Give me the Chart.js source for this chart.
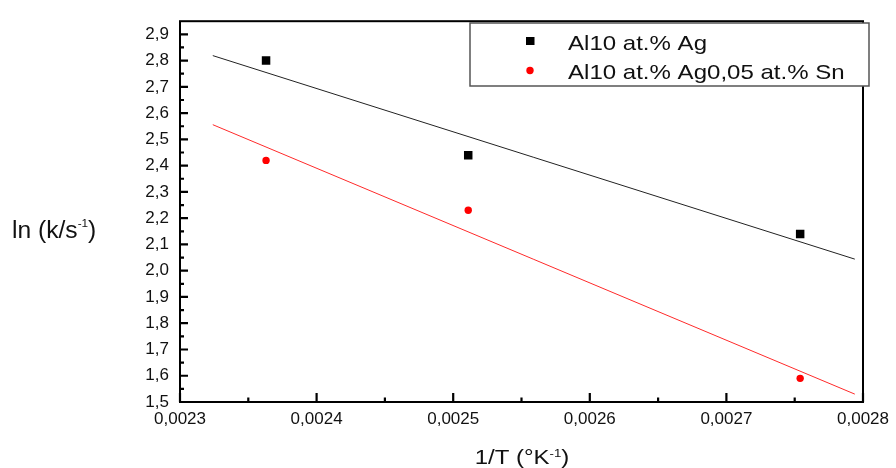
<!DOCTYPE html>
<html>
<head>
<meta charset="utf-8">
<script src="https://cdn.jsdelivr.net/npm/chart.js@4.4.1/dist/chart.umd.min.js"></script>
<style>
  html, body { margin: 0; padding: 0; background: #fff; overflow: hidden; }
  canvas { display: block; }
</style>
</head>
<body>
<canvas id="arrhenius" width="896" height="468"></canvas>
<script>
// values
const invT = [0.002363, 0.002511, 0.002754];
const lnAg = [2.80, 2.44, 2.14];
const lnAgSn = [2.42, 2.23, 1.59];

// end points of the two fitted lines
const fitInvT = [0.002324, 0.002794];
const fitAg = [2.819, 2.044];
const fitAgSn = [2.556, 1.530];

const xTickLabels = ['0,0023', '0,0024', '0,0025', '0,0026', '0,0027', '0,0028'];
const yTickLabels = ['1,5', '1,6', '1,7', '1,8', '1,9', '2,0', '2,1', '2,2',
                     '2,3', '2,4', '2,5', '2,6', '2,7', '2,8', '2,9'];

const FONT = '"Liberation Sans", Arial, sans-serif';
const toNum = s => parseFloat(s.replace(',', '.'));

function pts(xs, ys) {
    return xs.map((x, i) => ({ x: x, y: ys[i] }));
}

// draws a run of text pieces (with superscripts), stretched horizontally by sx
function drawRuns(ctx, runs, x, baseline, sx, align) {
    ctx.save();
    let total = 0;
    runs.forEach(r => {
        ctx.font = r.size + 'px ' + FONT;
        r.w = ctx.measureText(r.t).width;
        total += r.w;
    });
    ctx.translate(x, baseline);
    ctx.scale(sx, 1);
    let cx = align === 'center' ? -total / 2 : 0;
    ctx.textBaseline = 'alphabetic';
    ctx.textAlign = 'left';
    runs.forEach(r => {
        ctx.font = r.size + 'px ' + FONT;
        ctx.fillText(r.t, cx, r.dy || 0);
        cx += r.w;
    });
    ctx.restore();
}

const framePlugin = {
    id: 'frame',
    afterDatasetsDraw(chart) {
        const { ctx, chartArea: a, scales: { x, y } } = chart;
        ctx.save();
        ctx.strokeStyle = '#000';
        ctx.lineWidth = 2;
        ctx.strokeRect(a.left, a.top, a.right - a.left, a.bottom - a.top);
        ctx.beginPath();
        ctx.lineWidth = 2.2;
        y.ticks.forEach((t, i) => {
            const p = y.getPixelForValue(t.value);
            ctx.moveTo(a.left, p);
            ctx.lineTo(a.left + 8, p);
            if (i < y.ticks.length - 1) {
                const m = y.getPixelForValue((t.value + y.ticks[i + 1].value) / 2);
                ctx.moveTo(a.left, m);
                ctx.lineTo(a.left + 4, m);
            }
        });
        x.ticks.forEach((t, i) => {
            const p = x.getPixelForValue(t.value);
            ctx.moveTo(p, a.bottom);
            ctx.lineTo(p, a.bottom - 9);
            if (i < x.ticks.length - 1) {
                const m = x.getPixelForValue((t.value + x.ticks[i + 1].value) / 2);
                ctx.moveTo(m, a.bottom);
                ctx.lineTo(m, a.bottom - 4.5);
            }
        });
        ctx.stroke();
        ctx.restore();
    },
    afterDraw(chart) {
        const ctx = chart.ctx;
        ctx.save();
        ctx.fillStyle = '#111';
        // axis titles
        drawRuns(ctx, [
            { t: 'ln (k/s', size: 23 },
            { t: '-1', size: 11, dy: -11.5 },
            { t: ')', size: 23 }
        ], 12, 238, 1.07, 'left');
        drawRuns(ctx, [
            { t: '1/T (°K', size: 20 },
            { t: '-1', size: 11, dy: -7.5 },
            { t: ')', size: 20 }
        ], 522, 464, 1.2, 'center');

        // legend box
        ctx.fillStyle = '#fff';
        ctx.fillRect(470, 23, 399, 63);
        ctx.strokeStyle = '#555';
        ctx.lineWidth = 1.5;
        ctx.strokeRect(470, 23, 399, 63);
        const shown = chart.data.datasets.filter(d => d.inLegend);
        shown.forEach((d, i) => {
            const cy = 41 + i * 29.5;
            ctx.fillStyle = d.backgroundColor;
            if (d.pointStyle === 'rect') {
                ctx.fillRect(526, cy - 4, 8.5, 8);
            } else {
                ctx.beginPath();
                ctx.arc(530, cy, 3.7, 0, Math.PI * 2);
                ctx.fill();
            }
            ctx.fillStyle = '#111';
            drawRuns(ctx, [{ t: d.label, size: 21 }], 568, cy + 8.5, 1.145, 'left');
        });
        ctx.restore();
    }
};

new Chart(document.getElementById('arrhenius'), {
    type: 'scatter',
    data: {
        datasets: [{
            label: 'Al10 at.% Ag',
            inLegend: true,
            data: pts(invT, lnAg),
            pointStyle: 'rect',
            pointRadius: 6,
            backgroundColor: '#000',
            borderColor: '#000',
            borderWidth: 0
        }, {
            label: 'Al10 at.% Ag0,05 at.% Sn',
            inLegend: true,
            data: pts(invT, lnAgSn),
            pointStyle: 'circle',
            pointRadius: 3.7,
            backgroundColor: '#f00',
            borderColor: '#f00',
            borderWidth: 0
        }, {
            label: 'fit Ag',
            data: pts(fitInvT, fitAg),
            showLine: true,
            pointRadius: 0,
            borderColor: '#222',
            borderWidth: 1
        }, {
            label: 'fit AgSn',
            data: pts(fitInvT, fitAgSn),
            showLine: true,
            pointRadius: 0,
            borderColor: '#ff2a2a',
            borderWidth: 1
        }]
    },
    options: {
        responsive: false,
        animation: false,
        devicePixelRatio: 1,
        layout: { padding: { top: 16, right: 30, left: 0, bottom: 0 } },
        plugins: {
            legend: { display: false },
            tooltip: { enabled: false }
        },
        scales: {
            x: {
                type: 'linear',
                min: 0.0023,
                max: 0.0028,
                afterBuildTicks: s => { s.ticks = xTickLabels.map(l => ({ value: toNum(l) })); },
                afterFit: s => { s.height = 66; },
                grid: { display: false, drawTicks: false },
                border: { display: false },
                ticks: {
                    callback: (v, i) => xTickLabels[i],
                    autoSkip: false,
                    maxRotation: 0,
                    padding: 7,
                    color: '#111',
                    font: { family: FONT, size: 17 }
                }
            },
            y: {
                type: 'linear',
                min: 1.5,
                max: 2.95,
                afterBuildTicks: s => { s.ticks = yTickLabels.map(l => ({ value: toNum(l) })); },
                afterFit: s => { s.width = 180; },
                grid: { display: false, drawTicks: false },
                border: { display: false },
                ticks: {
                    callback: (v, i) => yTickLabels[i],
                    autoSkip: false,
                    padding: 11,
                    color: '#111',
                    font: { family: FONT, size: 17 }
                }
            }
        }
    },
    plugins: [framePlugin]
});
</script>
</body>
</html>
